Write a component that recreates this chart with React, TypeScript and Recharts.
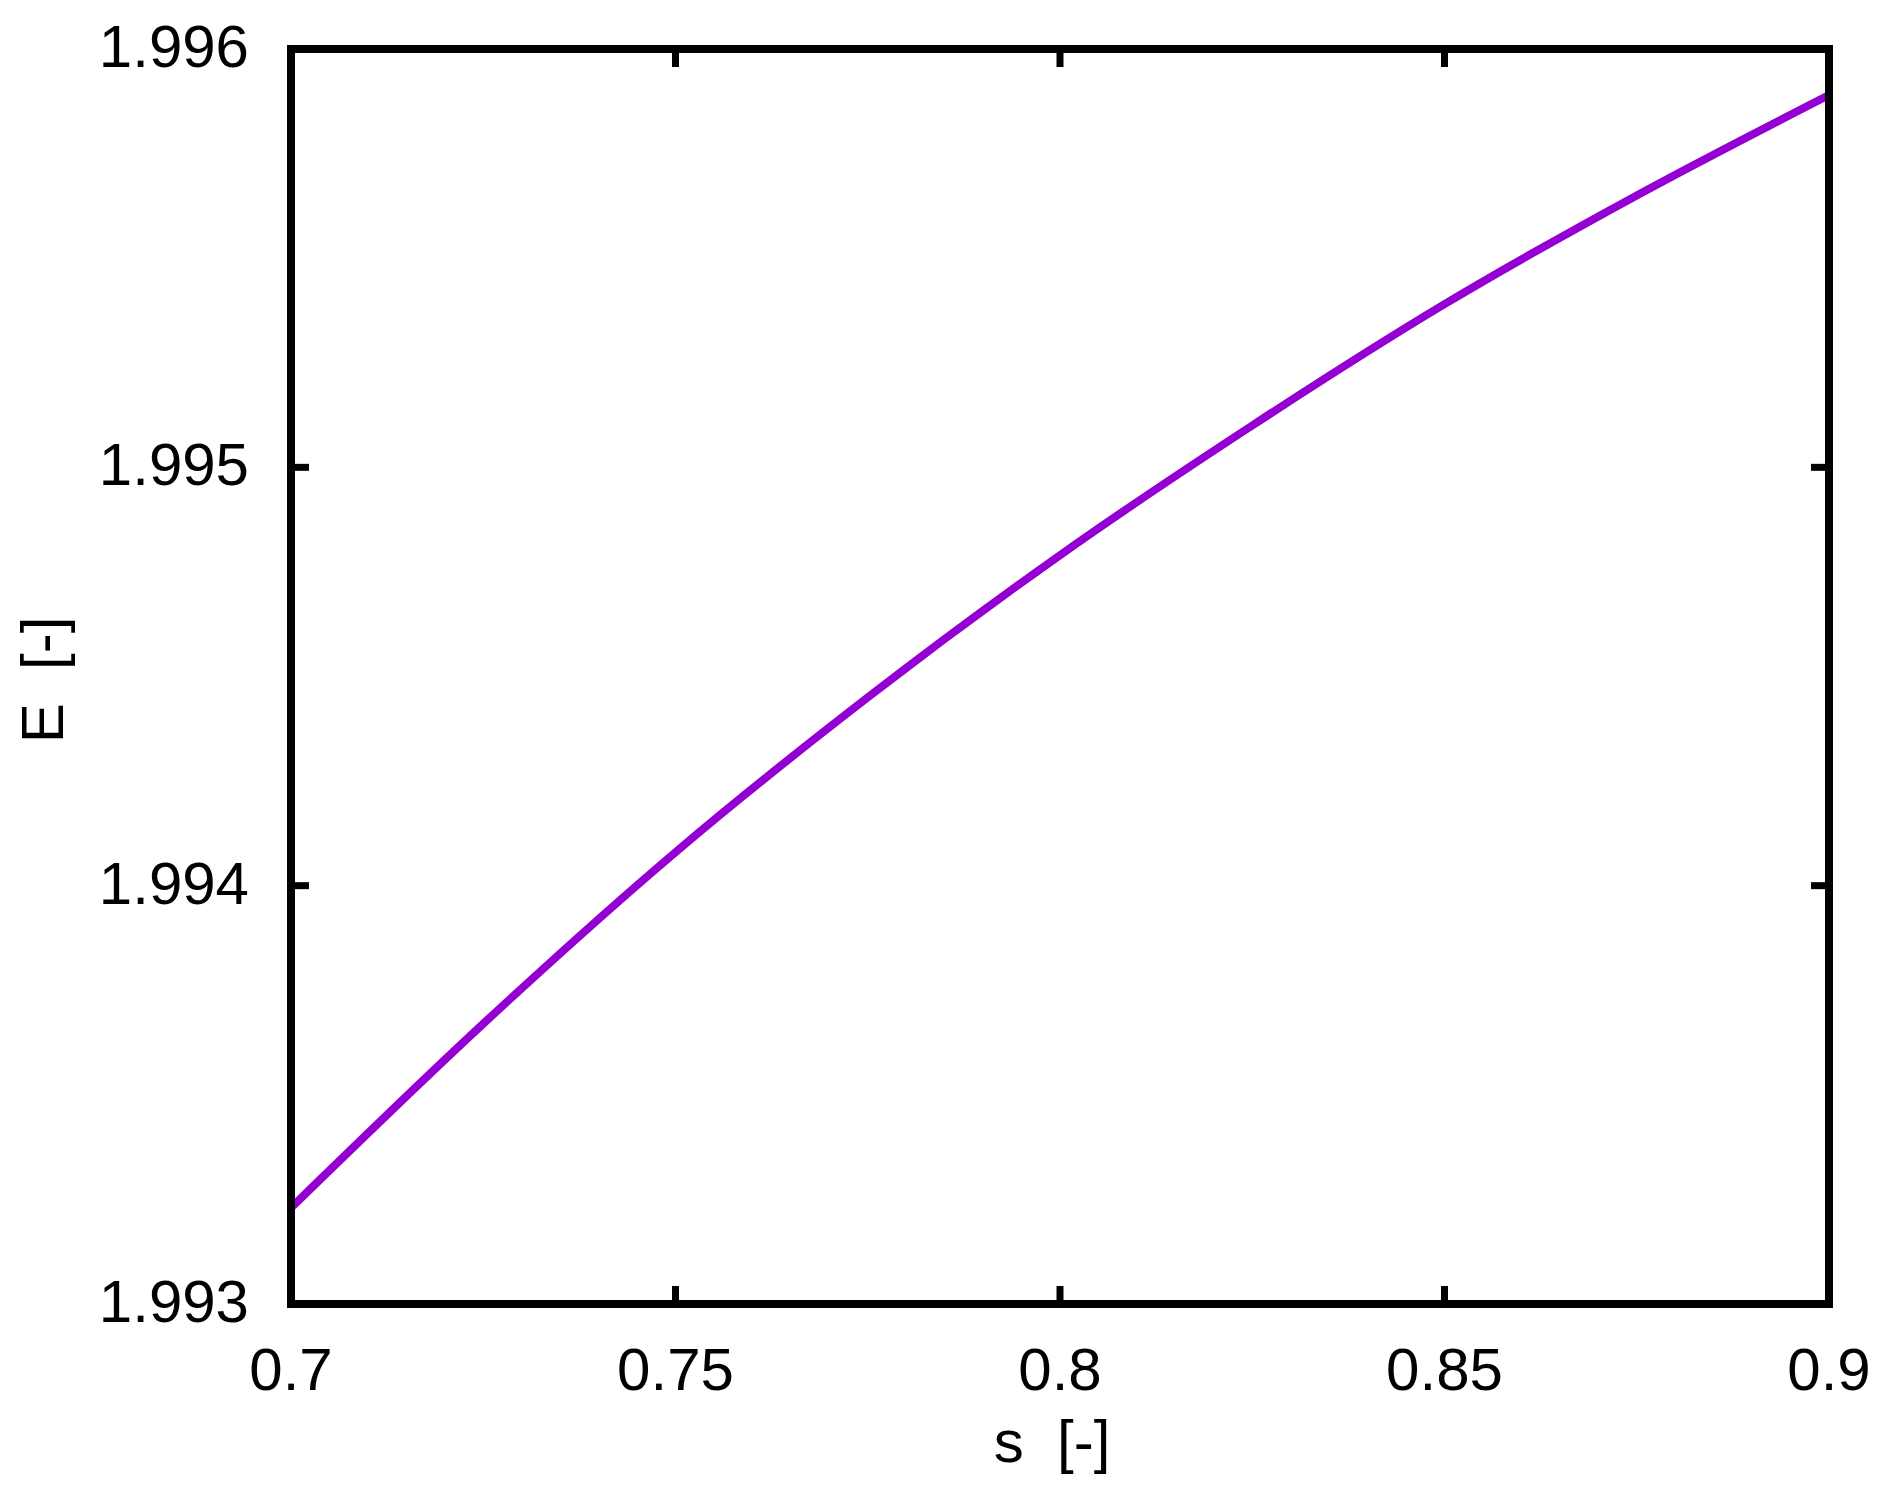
import React from "react"
import { LineChart, Line, XAxis, YAxis, ReferenceLine } from "recharts"

// s [-] sample positions and the read-off E [-] values
const sValues = [0.7, 0.725, 0.75, 0.775, 0.8, 0.825, 0.85, 0.875, 0.9]
const eValues = [
  1.99323, 1.99367, 1.99408, 1.99445, 1.99479, 1.9951, 1.99539, 1.99565,
  1.99589,
]
const sTicks = [0.7, 0.75, 0.8, 0.85, 0.9]
const eTicks = [1.993, 1.994, 1.995, 1.996]

const data = sValues.map((s, i) => ({ s, E: eValues[i] }))

const FONT = '"Liberation Sans", Arial, Helvetica, sans-serif'
const FONT_SIZE = 60
const TICK_LEN = 18
// plot frame in page pixels (from the chart margins below)
const PLOT = { left: 291, right: 1829, top: 49, bottom: 1304 }
const FRAME = { stroke: "#000", strokeWidth: 8, strokeLinecap: "square" as const }

function BottomTick({ x, payload }: any) {
  return (
    <g>
      <line x1={x} x2={x} y1={PLOT.bottom} y2={PLOT.bottom - TICK_LEN} stroke="#000" strokeWidth={7} />
      <line x1={x} x2={x} y1={PLOT.top} y2={PLOT.top + TICK_LEN} stroke="#000" strokeWidth={7} />
      <text
        x={x}
        y={PLOT.bottom + 86}
        textAnchor="middle"
        fontSize={FONT_SIZE}
        fontFamily={FONT}
        fill="#000"
      >
        {String(payload.value)}
      </text>
    </g>
  )
}

function LeftTick({ y, payload }: any) {
  return (
    <g>
      <line x1={PLOT.left} x2={PLOT.left + TICK_LEN} y1={y} y2={y} stroke="#000" strokeWidth={7} />
      <line x1={PLOT.right} x2={PLOT.right - TICK_LEN} y1={y} y2={y} stroke="#000" strokeWidth={7} />
      <text
        x={PLOT.left - 42}
        y={y + 18}
        textAnchor="end"
        fontSize={FONT_SIZE}
        fontFamily={FONT}
        fill="#000"
      >
        {String(payload.value)}
      </text>
    </g>
  )
}

export default function App() {
  return (
    <div style={{ position: "absolute", left: 0, top: 0, background: "#fff" }}>
      <LineChart
        width={1896}
        height={1498}
        data={data}
        margin={{ top: 49, right: 67, bottom: 0, left: 91 }}
      >
        <XAxis
          dataKey="s"
          type="number"
          domain={[0.7, 0.9]}
          ticks={sTicks}
          interval={0}
          allowDataOverflow
          height={194}
          axisLine={FRAME}
          tickLine={false}
          tick={<BottomTick />}
          label={{
            value: "s  [-]",
            content: () => (
              <text
                x={1052}
                y={1462}
                textAnchor="middle"
                fontSize={FONT_SIZE}
                fontFamily={FONT}
                fill="#000"
                style={{ whiteSpace: "pre" }}
              >
                {"s  [-]"}
              </text>
            ),
          }}
        />
        <YAxis
          type="number"
          domain={[1.993, 1.996]}
          ticks={eTicks}
          interval={0}
          allowDataOverflow
          width={200}
          axisLine={FRAME}
          tickLine={false}
          tick={<LeftTick />}
          label={{
            value: "E  [-]",
            content: () => (
              <text
                x={63}
                y={680}
                transform="rotate(-90, 63, 680)"
                textAnchor="middle"
                fontSize={FONT_SIZE}
                fontFamily={FONT}
                fill="#000"
                style={{ whiteSpace: "pre" }}
              >
                {"E  [-]"}
              </text>
            ),
          }}
        />
        <Line
          type="monotone"
          dataKey="E"
          stroke="#9400D3"
          strokeWidth={8}
          dot={false}
          activeDot={false}
          isAnimationActive={false}
        />
        <ReferenceLine y={1.996} {...FRAME} />
        <ReferenceLine x={0.9} {...FRAME} />
      </LineChart>
    </div>
  )
}
